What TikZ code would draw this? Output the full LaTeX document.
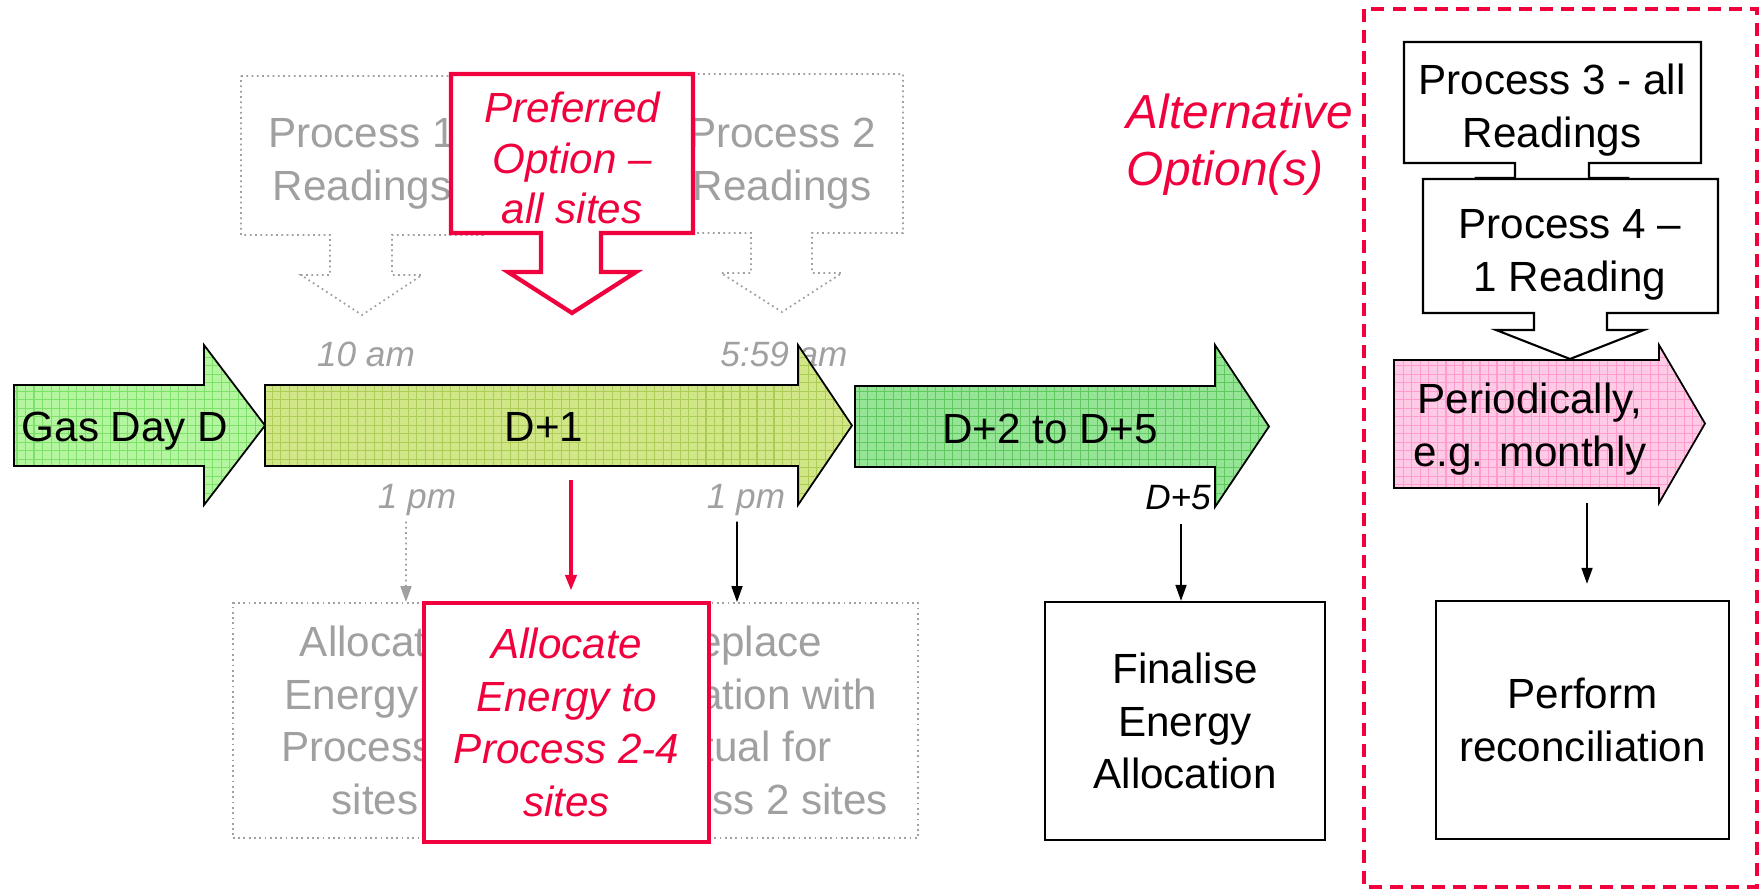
\documentclass[tikz,border=0pt]{standalone}
\usepackage{fontspec}
\setmainfont{Liberation Sans}
\usetikzlibrary{arrows.meta}

\definecolor{optred}{RGB}{240,0,60}
\definecolor{gasgreen}{RGB}{180,245,160}
\definecolor{gasgrid}{RGB}{125,225,105}
\definecolor{dayolive}{RGB}{208,230,135}
\definecolor{daygrid}{RGB}{172,205,85}
\definecolor{laygreen}{RGB}{150,228,150}
\definecolor{laygrid}{RGB}{95,200,95}
\definecolor{monthpink}{RGB}{255,202,230}
\definecolor{monthgrid}{RGB}{255,155,205}
\definecolor{ghost}{RGB}{160,160,160}

\newcommand{\boxfont}{\fontsize{12}{15}\selectfont}
\newcommand{\timefont}{\fontsize{10}{12}\selectfont\itshape}
\newcommand{\altfont}{\fontsize{13.6}{16.2}\selectfont\itshape}

\begin{document}
\begin{tikzpicture}[x=0.01cm, y=-0.01cm, line width=0.5pt,
    every node/.style={inner sep=0pt, align=center, font=\boxfont},
    gridded/.style={path picture={\draw[#1, line width=0.3pt, step=0.085cm]
      (path picture bounding box.south west) grid (path picture bounding box.north east);}},
    ghostline/.style={draw=ghost, densely dotted, line width=0.5pt, fill=white},
    ghostbox/.style={ghostline, text=ghost},
    redline/.style={draw=optred, line width=1.2pt, fill=white},
    box/.style={draw, line width=0.6pt, fill=white},
    time/.style={font=\timefont, text=ghost},
    link/.style={-{Triangle[length=0.16cm, width=0.11cm]}, line width=0.5pt}]

  \useasboundingbox (0,0) rectangle (1761,889);

  % readings callouts
  \draw[ghostline] (241,76) -- (483,76) -- (483,235) -- (392,235) -- (392,275) -- (422,275) -- (362,315)
    -- (301,275) -- (330,275) -- (330,235) -- (241,235) -- cycle;
  \node[text=ghost] (procone) at (362,164) {Process 1\\Readings};
  \draw[ghostline] (661,74) -- (903,74) -- (903,233) -- (812,233) -- (812,273) -- (842,273) -- (782,312)
    -- (721,273) -- (751,273) -- (751,233) -- (661,233) -- cycle;
  \node[text=ghost] (proctwo) at (782,164) {Process 2\\Readings};
  \draw[redline] (451,74) -- (693,74) -- (693,233) -- (601,233) -- (601,272) -- (636,272) -- (572,313)
    -- (508,272) -- (541,272) -- (541,233) -- (451,233) -- cycle;
  \node[text=optred, font=\fontsize{12}{14.4}\selectfont\itshape] (preferred) at (572,158)
    {Preferred\\Option --\\all sites};

  \node[time] (amone) at (366,354) {10 am};
  \node[time] (amtwo) at (784,354) {5:59 am};
  \node[time] (pmone) at (417,500) {1 pm};
  \node[time] (pmtwo) at (746,500) {1 pm};
  \node[font=\timefont] (dfive) at (1178,498) {D+5};

  % days
  \draw[fill=gasgreen, gridded=gasgrid] (14,385) -- (204,385) -- (204,345) -- (265,425.5) -- (204,505)
    -- (204,466) -- (14,466) -- cycle;
  \draw[fill=dayolive, gridded=daygrid] (265,385) -- (798,385) -- (798,345) -- (852,425.5) -- (798,505)
    -- (798,466) -- (265,466) -- cycle;
  \draw[fill=laygreen, gridded=laygrid] (855,386) -- (1215,386) -- (1215,345) -- (1269,426.5) -- (1215,507)
    -- (1215,467) -- (855,467) -- cycle;
  \node (gasday) at (125,431) {Gas Day D};
  \node (dplusone) at (544,427) {D+1};
  \node (dplustwo) at (1050,429) {D+2 to D+5};

  % allocation
  \node[ghostbox, minimum width=2.84cm, minimum height=2.35cm] (allocone) at (375,720.5)
    {Allocate\\Energy to\\Process 1\\sites};
  \node[ghostbox, minimum width=3.46cm, minimum height=2.35cm] (replace) at (745,720.5)
    {Replace\\allocation with\\actual for\\Process 2 sites};
  \node[redline, text=optred, font=\boxfont\itshape, minimum width=2.85cm, minimum height=2.39cm] (allocnew)
    at (566.5,722.5) {Allocate\\Energy to\\Process 2-4\\sites};
  \node[box, minimum width=2.80cm, minimum height=2.38cm] (finalise) at (1185,721) {Finalise\\Energy\\Allocation};

  % alternative
  \draw[optred, line width=1pt, dash pattern=on 0.13cm off 0.08cm] (1364,9) rectangle (1757,887);
  \node[text=optred, font=\altfont, align=left, anchor=west] (altopt) at (1126,145) {Alternative\\Option(s)};
  \draw[box] (1404,42) -- (1701,42) -- (1701,163) -- (1589,163) -- (1589,178) -- (1626,178) -- (1552,220)
    -- (1478,178) -- (1515,178) -- (1515,163) -- (1404,163) -- cycle;
  \node (procthree) at (1552,110) {Process 3 - all\\Readings};
  \draw[box] (1423,179) -- (1718,179) -- (1718,313) -- (1607,313) -- (1607,330) -- (1644,330) -- (1570,359)
    -- (1496,330) -- (1534,330) -- (1534,313) -- (1423,313) -- cycle;
  \node (procfour) at (1570,255) {Process 4 --\\1 Reading};
  \draw[fill=monthpink, gridded=monthgrid] (1394,360) -- (1659,360) -- (1659,345) -- (1705,423.5) -- (1659,503)
    -- (1659,488) -- (1394,488) -- cycle;
  \node (monthly) at (1530,429) {Periodically,\\e.g. monthly};
  \node[box, minimum width=2.93cm, minimum height=2.38cm] (perform) at (1582.5,720) {Perform\\reconciliation};

  \coordinate (redfoot) at (571,480);
  \coordinate (pinkfoot) at (1587,503);
  \draw[link, ghost, densely dotted] ([shift={(-11,5)}]pmone.south) -- ([xshift=-0.11cm]pmone.south |- allocone.north);
  \draw[link, optred, line width=1.2pt] (redfoot) -- ([yshift=0.1cm]redfoot |- allocnew.north);
  \draw[link] ([shift={(-9,5)}]pmtwo.south) -- ([xshift=-0.09cm]pmtwo.south |- replace.north);
  \draw[link] ([shift={(3,13)}]dfive.south) -- ([xshift=0.03cm]dfive.south |- finalise.north);
  \draw[link] (pinkfoot) -- ([yshift=0.16cm]pinkfoot |- perform.north);
\end{tikzpicture}
\end{document}
